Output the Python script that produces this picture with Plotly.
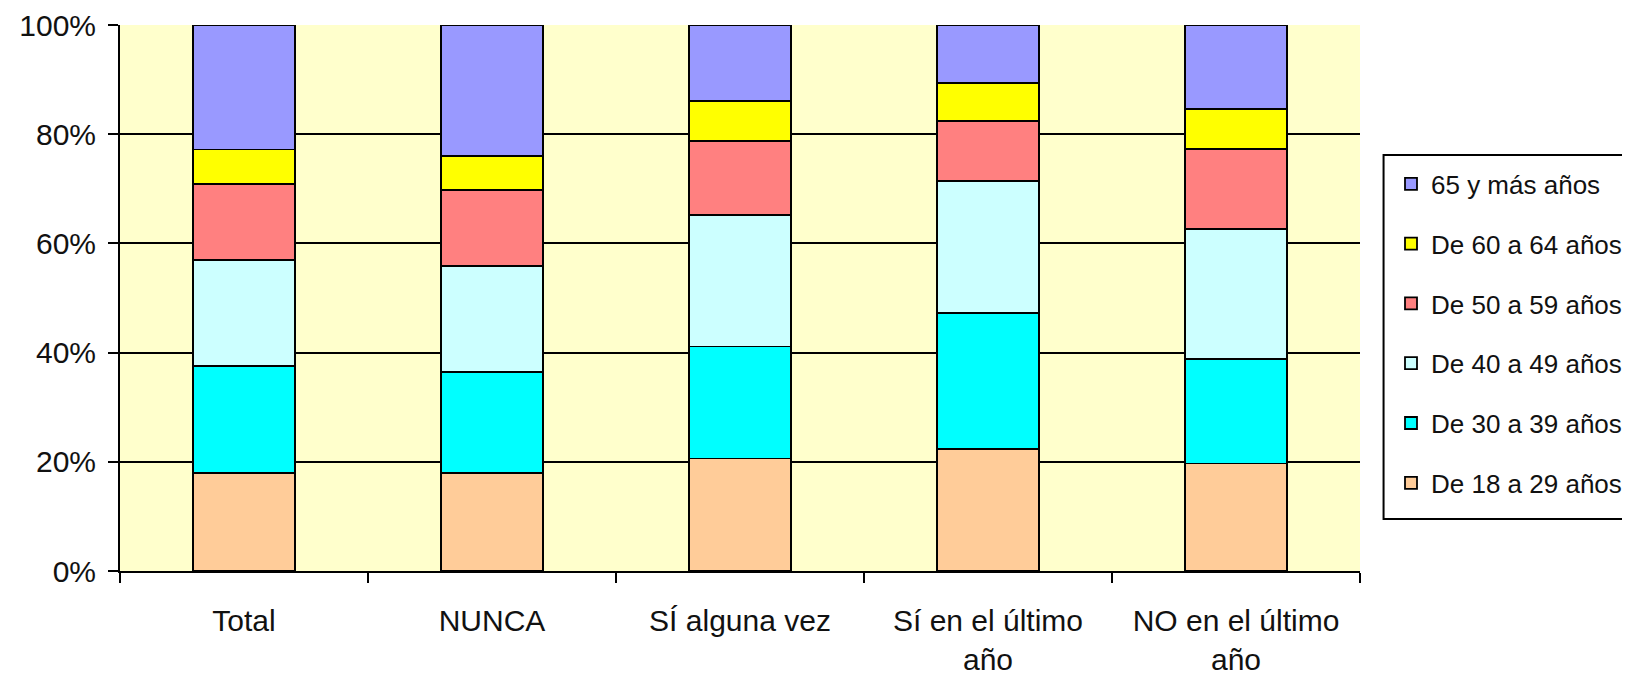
import plotly.graph_objects as go

categories = ["Total", "NUNCA", "SÍ alguna vez", "Sí en el último<br>año", "NO en el último<br>año"]
tick_vals_y = [0, 20, 40, 60, 80, 100]
tick_text_y = ["0%", "20%", "40%", "60%", "80%", "100%"]

series_names = ["De 18 a 29 años", "De 30 a 39 años", "De 40 a 49 años",
                "De 50 a 59 años", "De 60 a 64 años", "65 y más años"]
age_18_29 = [17.9, 17.9, 20.6, 22.3, 19.7]
age_30_39 = [19.6, 18.6, 20.5, 24.9, 19.2]
age_40_49 = [19.5, 19.4, 24.1, 24.2, 23.7]
age_50_59 = [13.9, 13.9, 13.6, 11.0, 14.7]
age_60_64 = [6.3, 6.2, 7.3, 7.0, 7.3]
age_65_up = [22.8, 24.0, 13.9, 10.6, 15.4]

series_values = [age_18_29, age_30_39, age_40_49, age_50_59, age_60_64, age_65_up]
colors = ["#FFCC99", "#00FFFF", "#CCFFFF", "#FF8080", "#FFFF00", "#9999FF"]

fig = go.Figure()
n = len(series_names)
for i, (name, vals, col) in enumerate(zip(series_names, series_values, colors)):
    fig.add_trace(go.Bar(
        x=categories, y=vals, name=name, legendgroup=name,
        legendrank=n - i,
        marker=dict(color=col, line=dict(color="#000000", width=1.8)),
        hoverinfo="x+y+name",
    ))

font_family = "Liberation Sans, Arial, sans-serif"

# legend frame (decoration)
fig.add_shape(type="rect", xref="paper", yref="paper",
              x0=1.019, x1=1.216, y0=0.0952, y1=0.762,
              line=dict(color="#000000", width=2), fillcolor="#FFFFFF", layer="below")

fig.update_layout(
    width=1622, height=667,
    barmode="stack", bargap=0.59,
    paper_bgcolor="#FFFFFF", plot_bgcolor="#FFFFCC",
    margin=dict(l=112, r=270, t=17, b=104, pad=0, autoexpand=False),
    font=dict(family=font_family, color="#111111"),
    legend=dict(
        x=1.025, y=0.752, xanchor="left", yanchor="top",
        traceorder="grouped", tracegroupgap=23,
        bgcolor="rgba(0,0,0,0)", borderwidth=0,
        font=dict(size=26, family=font_family, color="#111111"),
    ),
    xaxis=dict(
        type="category", showline=True, linecolor="#000000", linewidth=2,
        ticks="outside", tickson="boundaries", ticklen=10, tickwidth=2, tickcolor="#000000",
        tickfont=dict(size=30, family=font_family, color="#111111"),
        ticklabelstandoff=22, automargin=False,
        showgrid=False,
    ),
    yaxis=dict(
        range=[0, 100], tickvals=tick_vals_y, ticktext=tick_text_y,
        showline=True, linecolor="#000000", linewidth=2,
        ticks="outside", ticklen=10, tickwidth=2, tickcolor="#000000",
        tickfont=dict(size=30, family=font_family, color="#111111"),
        ticklabelstandoff=6, automargin=False,
        showgrid=True, gridcolor="#000000", gridwidth=1.5,
        zeroline=False,
    ),
)

fig.write_html("out.html")
